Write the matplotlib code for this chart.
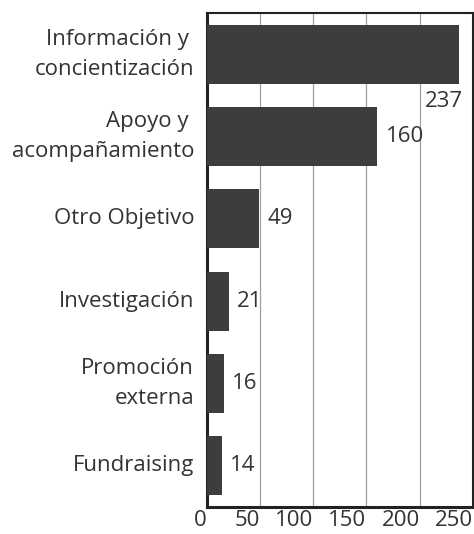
import matplotlib
matplotlib.use("Agg")
import matplotlib.pyplot as plt
import numpy as np

categorias = ["Información y \nconcientización", "Apoyo y \nacompañamiento", "Otro Objetivo",
              "Investigación", "Promoción\nexterna", "Fundraising"]
valores = [237, 160, 49, 21, 16, 14]
xticks = [0, 50, 100, 150, 200, 250]

plt.rcParams["font.family"] = ["Open Sans", "DejaVu Sans"]
fs = 16

fig = plt.figure(figsize=(4.74, 5.34), dpi=100)
ax = fig.add_axes([0.436, 0.0506, 0.562, 0.925])

y = np.arange(len(categorias))
ax.barh(y, valores, height=0.72, color="#3d3d3d", zorder=3)
ax.set_ylim(len(categorias) - 0.5, -0.5)
ax.set_xlim(0, 250)

ax.set_yticks(y)
ax.set_yticklabels(categorias, fontsize=fs, color="#333333", linespacing=1.55,
                   ha="right", va="center")
ax.set_xticks(xticks)
ax.set_xticklabels([str(t) for t in xticks], fontsize=fs, color="#333333", ha="right")
ax.tick_params(axis="y", length=0, pad=9)
ax.tick_params(axis="x", length=0, pad=2)

ax.grid(axis="x", color="#a0a0a0", linewidth=0.9, zorder=0)
for side in ["left", "bottom"]:
    ax.spines[side].set_linewidth(2.2)
    ax.spines[side].set_color("#222222")
for side in ["top", "right"]:
    ax.spines[side].set_linewidth(1.5)
    ax.spines[side].set_color("#222222")

# etiquetas de valor
for i, v in enumerate(valores):
    if v > 230:
        ax.annotate(str(v), xy=(v, i + 0.57), xytext=(3, 0), textcoords="offset points",
                    ha="right", va="center", fontsize=fs, color="#333333", zorder=4)
    else:
        ax.annotate(str(v), xy=(v, i), xytext=(6, 0), textcoords="offset points",
                    ha="left", va="center", fontsize=fs, color="#333333", zorder=4)

fig.savefig("out.png", dpi=100)
